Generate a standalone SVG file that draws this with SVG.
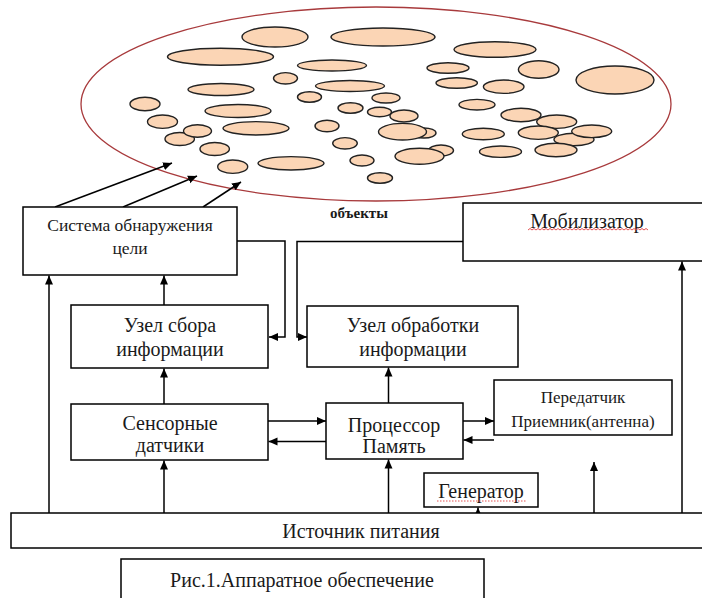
<svg xmlns="http://www.w3.org/2000/svg" width="702" height="598" viewBox="0 0 702 598">
<style>
.box{fill:#fff;stroke:#000;stroke-width:1.5}
.t{font-family:"Liberation Serif","Times New Roman",serif;font-size:20px;fill:#1a1a1a;text-anchor:middle;dominant-baseline:central}
.s{font-size:17px}
.b{font-size:15px;font-weight:bold}
.obj{fill:#fbd5b5;stroke:#222;stroke-width:1.4}
.ln{fill:none;stroke:#000;stroke-width:1.5}
.sq{fill:none;stroke:#e04040;stroke-width:0.9}
</style>
<defs>
<marker id="ah" markerUnits="userSpaceOnUse" markerWidth="10" markerHeight="10" viewBox="0 0 10 10" refX="9" refY="5" orient="auto">
<path d="M0,1 L9,5 L0,9 Z" fill="#000"/>
</marker>
</defs>
<rect width="702" height="598" fill="#fff"/>
<g id="objects">
<ellipse cx="376" cy="104" rx="295" ry="97" fill="none" stroke="#a83a3c" stroke-width="1.3"/>
<ellipse class="obj" cx="275" cy="37" rx="33" ry="10"/>
<ellipse class="obj" cx="383" cy="37" rx="52" ry="9"/>
<ellipse class="obj" cx="220.5" cy="56.7" rx="53" ry="8.5"/>
<ellipse class="obj" cx="332" cy="65.5" rx="34.5" ry="5.5"/>
<ellipse class="obj" cx="285.5" cy="78.3" rx="12" ry="5.7"/>
<ellipse class="obj" cx="221" cy="89.5" rx="33" ry="6"/>
<ellipse class="obj" cx="350" cy="86" rx="34.5" ry="5.5"/>
<ellipse class="obj" cx="309.5" cy="97" rx="12" ry="5.3"/>
<ellipse class="obj" cx="386" cy="98" rx="14" ry="5"/>
<ellipse class="obj" cx="145" cy="104" rx="15" ry="6.7"/>
<ellipse class="obj" cx="238" cy="111" rx="33" ry="6.5"/>
<ellipse class="obj" cx="350.5" cy="108" rx="12.5" ry="5.3"/>
<ellipse class="obj" cx="379.5" cy="112" rx="12" ry="4.7"/>
<ellipse class="obj" cx="404" cy="116" rx="14" ry="6"/>
<ellipse class="obj" cx="162.5" cy="121.7" rx="15" ry="6.7"/>
<ellipse class="obj" cx="179.7" cy="139" rx="14.7" ry="6.5"/>
<ellipse class="obj" cx="197.5" cy="131" rx="14" ry="6.3"/>
<ellipse class="obj" cx="256" cy="128.3" rx="33" ry="6.7"/>
<ellipse class="obj" cx="327" cy="126" rx="12" ry="5.8"/>
<ellipse class="obj" cx="424" cy="133" rx="12" ry="5"/>
<ellipse class="obj" cx="402.5" cy="131.7" rx="24" ry="8.3"/>
<ellipse class="obj" cx="345" cy="143.3" rx="12.3" ry="5.7"/>
<ellipse class="obj" cx="214.7" cy="149" rx="14.7" ry="6.5"/>
<ellipse class="obj" cx="232.7" cy="166.7" rx="15" ry="6.7"/>
<ellipse class="obj" cx="291" cy="163.3" rx="33" ry="6.7"/>
<ellipse class="obj" cx="362" cy="160.5" rx="12" ry="5.5"/>
<ellipse class="obj" cx="441" cy="150.5" rx="12.5" ry="5.5"/>
<ellipse class="obj" cx="419.5" cy="156.3" rx="24.5" ry="8"/>
<ellipse class="obj" cx="380" cy="178" rx="12.5" ry="5.3"/>
<ellipse class="obj" cx="495" cy="49.5" rx="41" ry="7.8"/>
<ellipse class="obj" cx="448" cy="68" rx="21" ry="5.3"/>
<ellipse class="obj" cx="538.7" cy="69.5" rx="20.3" ry="8.8"/>
<ellipse class="obj" cx="615" cy="80" rx="39" ry="14"/>
<ellipse class="obj" cx="456.7" cy="83" rx="20.7" ry="5.3"/>
<ellipse class="obj" cx="503.7" cy="86.7" rx="20.3" ry="6.7"/>
<ellipse class="obj" cx="477" cy="104.7" rx="18" ry="5.3"/>
<ellipse class="obj" cx="521" cy="115" rx="20" ry="6.7"/>
<ellipse class="obj" cx="556.7" cy="121.7" rx="20" ry="6.7"/>
<ellipse class="obj" cx="483.3" cy="134" rx="21" ry="5.8"/>
<ellipse class="obj" cx="574" cy="139.5" rx="20" ry="6.2"/>
<ellipse class="obj" cx="538.3" cy="132.7" rx="20" ry="6.7"/>
<ellipse class="obj" cx="591.7" cy="131.3" rx="20" ry="6.3"/>
<ellipse class="obj" cx="500.5" cy="151.7" rx="21" ry="5.7"/>
<ellipse class="obj" cx="556" cy="150" rx="21" ry="6.7"/>
<text class="t b" x="359" y="213">объекты</text>
</g>
<g id="connectors">
<path class="ln" d="M55,207 L172,163" marker-end="url(#ah)"/>
<path class="ln" d="M123,207 L197,176" marker-end="url(#ah)"/>
<path class="ln" d="M203,207 L241,182" marker-end="url(#ah)"/>
<path class="ln" d="M237,241 H285 V337 H269" marker-end="url(#ah)"/>
<path class="ln" d="M463,241.5 H297 V337 H307" marker-end="url(#ah)"/>
<path class="ln" d="M49,536 V275.5" marker-end="url(#ah)"/>
<path class="ln" d="M164,305 V275.5" marker-end="url(#ah)"/>
<path class="ln" d="M164,404 V368.5" marker-end="url(#ah)"/>
<path class="ln" d="M164,536 V460.5" marker-end="url(#ah)"/>
<path class="ln" d="M268,421 H326" marker-end="url(#ah)"/>
<path class="ln" d="M326,441.5 H268.5" marker-end="url(#ah)"/>
<path class="ln" d="M388.5,403 V367.5" marker-end="url(#ah)"/>
<path class="ln" d="M388.5,528 V459.5" marker-end="url(#ah)"/>
<path class="ln" d="M463,421 H494" marker-end="url(#ah)"/>
<path class="ln" d="M494,440 H463.5" marker-end="url(#ah)"/>
<path class="ln" d="M478,536 V507.5" marker-end="url(#ah)"/>
<path class="ln" d="M594,536 V462" marker-end="url(#ah)"/>
<path class="ln" d="M682,518 V261.5" marker-end="url(#ah)"/>
</g>
<g id="target-system">
<rect class="box" x="23" y="207" width="214" height="68"/>
<text class="t" style="font-size:17.5px" x="130" y="225">Система обнаружения</text>
<text class="t" style="font-size:17.5px" x="130" y="248">цели</text>
</g>
<g id="mobilizer">
<rect class="box" x="463" y="203" width="250" height="58"/>
<text class="t" x="587" y="221">Мобилизатор</text>
<path class="sq" d="M528,230 l2,-1.5 l2,1.5 l2,-1.5 l2,1.5 l2,-1.5 l2,1.5 l2,-1.5 l2,1.5 l2,-1.5 l2,1.5 l2,-1.5 l2,1.5 l2,-1.5 l2,1.5 l2,-1.5 l2,1.5 l2,-1.5 l2,1.5 l2,-1.5 l2,1.5 l2,-1.5 l2,1.5 l2,-1.5 l2,1.5 l2,-1.5 l2,1.5 l2,-1.5 l2,1.5 l2,-1.5 l2,1.5 l2,-1.5 l2,1.5 l2,-1.5 l2,1.5 l2,-1.5 l2,1.5 l2,-1.5 l2,1.5 l2,-1.5 l2,1.5 l2,-1.5 l2,1.5 l2,-1.5 l2,1.5 l2,-1.5 l2,1.5 l2,-1.5 l2,1.5 l2,-1.5 l2,1.5 l2,-1.5 l2,1.5 l2,-1.5 l2,1.5 l2,-1.5 l2,1.5 l2,-1.5 l2,1.5 l2,-1.5 l2,1.5"/>
</g>
<g id="collection-node">
<rect class="box" x="71" y="305" width="197" height="63"/>
<text class="t" x="170" y="325">Узел сбора</text>
<text class="t" x="170" y="349">информации</text>
</g>
<g id="processing-node">
<rect class="box" x="307" y="306" width="211" height="61"/>
<text class="t" x="413" y="325">Узел обработки</text>
<text class="t" x="413" y="349">информации</text>
</g>
<g id="sensors">
<rect class="box" x="71" y="404" width="197" height="56"/>
<text class="t" x="170" y="423">Сенсорные</text>
<text class="t" x="170" y="445">датчики</text>
</g>
<g id="processor">
<rect class="box" x="326" y="403" width="137" height="56"/>
<text class="t" x="394" y="425">Процессор</text>
<text class="t" x="394" y="446">Память</text>
</g>
<g id="transceiver">
<rect class="box" x="494" y="380" width="178" height="55"/>
<text class="t s" x="583" y="397">Передатчик</text>
<text class="t s" x="583" y="421">Приемник(антенна)</text>
</g>
<g id="generator">
<rect class="box" x="424" y="473" width="114" height="34"/>
<text class="t" x="481" y="491">Генератор</text>
<path class="sq" stroke-dasharray="1.5 1.5" d="M437,501 H527"/>
</g>
<g id="power-source">
<rect class="box" x="11" y="513" width="700" height="35"/>
<text class="t" x="361" y="531">Источник питания</text>
</g>
<g id="caption">
<rect class="box" x="121" y="559" width="363" height="50"/>
<text class="t" x="302" y="580">Рис.1.Аппаратное обеспечение</text>
</g>
</svg>
